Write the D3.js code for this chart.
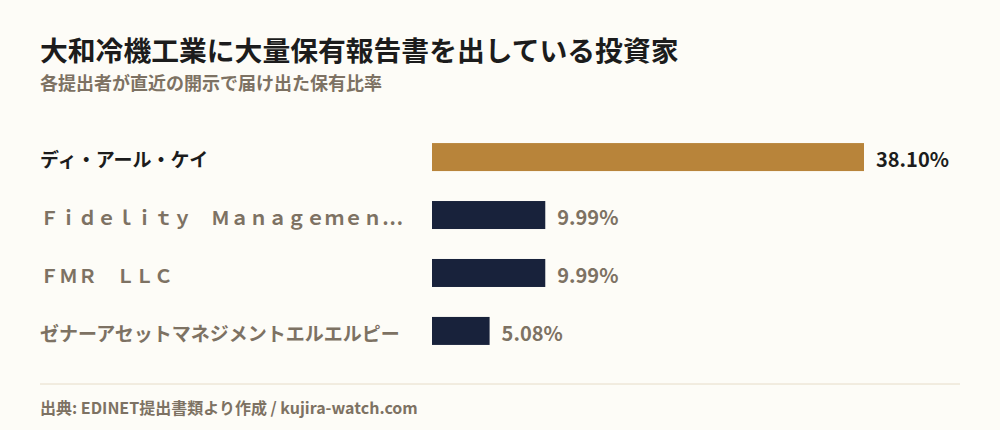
<!DOCTYPE html>
<html><head><meta charset="utf-8">
<script src="https://cdn.jsdelivr.net/npm/d3@7"></script>
<style>
html,body{margin:0;padding:0;background:#fdfcf7;}
svg{display:block;font-family:"Noto Sans CJK JP","Noto Sans",sans-serif;}
</style></head><body>
<svg id="c" width="1000" height="430"></svg>
<script>
const categories = ["ディ・アール・ケイ","Ｆｉｄｅｌｉｔｙ　Ｍａｎａｇｅｍｅｎ…","ＦＭＲ　ＬＬＣ","ゼナーアセットマネジメントエルエルピー"];
const values = [38.10, 9.99, 9.99, 5.08];
const valueLabels = ["38.10%","9.99%","9.99%","5.08%"];
const highlight = [true,false,false,false];
const title = "大和冷機工業に大量保有報告書を出している投資家";
const subtitle = "各提出者が直近の開示で届け出た保有比率";
const source = "出典: EDINET提出書類より作成 / kujira-watch.com";

const svg = d3.select("#c");
svg.append("rect").attr("width",1000).attr("height",430).attr("fill","#fdfcf7");
svg.append("text").attr("x",40).attr("y",61).attr("font-size",27.8).attr("font-weight",700).attr("fill","#1c1c1c").text(title);
svg.append("text").attr("x",40).attr("y",90).attr("font-size",18).attr("font-weight",700).attr("fill","#7d7263").text(subtitle);

const x = d3.scaleLinear().domain([0,38.10]).range([432,864]);
const y = d3.scaleBand().domain(categories).range([128,360]).paddingInner(0.517).paddingOuter(0.26);

const g = svg.append("g");
g.selectAll("rect.bar").data(categories).join("rect").attr("class","bar")
 .attr("x",x(0)).attr("y",d=>y(d)).attr("width",(d,i)=>x(values[i])-x(0)).attr("height",y.bandwidth())
 .attr("fill",(d,i)=>highlight[i]?"#b8843a":"#18223b");
g.selectAll("text.lab").data(categories).join("text").attr("class","lab")
 .attr("x",40).attr("y",d=>y(d)+y.bandwidth()/2+3).attr("dy","0.35em")
 .attr("font-size",19).attr("font-weight",700)
 .attr("fill",(d,i)=>highlight[i]?"#1c1c1c":"#7d7263").text(d=>d);
g.selectAll("text.val").data(categories).join("text").attr("class","val")
 .attr("x",(d,i)=>x(values[i])+12).attr("y",d=>y(d)+y.bandwidth()/2+3).attr("dy","0.36em")
 .attr("font-size",20).attr("font-weight",700)
 .attr("fill",(d,i)=>highlight[i]?"#1c1c1c":"#7d7263").text((d,i)=>valueLabels[i]);

svg.append("line").attr("x1",40).attr("x2",960).attr("y1",384).attr("y2",384).attr("stroke","#e6dcc8").attr("stroke-width",1);
svg.append("text").attr("x",40).attr("y",414).attr("font-size",16).attr("font-weight",700).attr("fill","#7d7263").text(source);
</script></body></html>
